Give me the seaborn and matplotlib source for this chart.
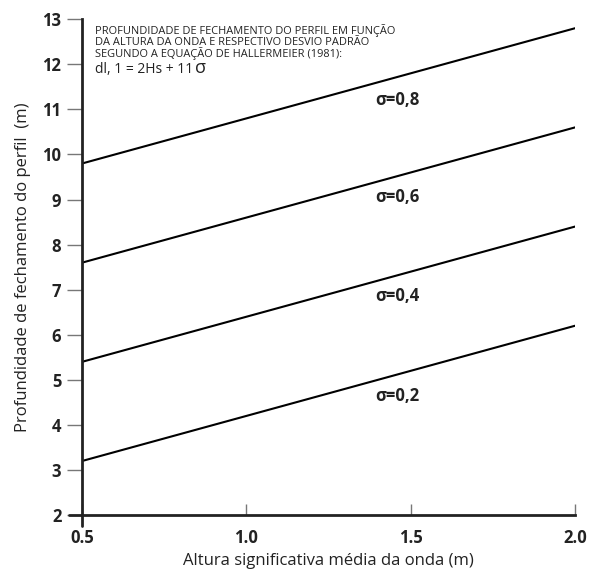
import pandas as pd
import seaborn as sns
import matplotlib.pyplot as plt

# Data (dl = 2Hs + 11 sigma)
hs = [0.5, 2.0]
sigmas = ['0,2', '0,4', '0,6', '0,8']
depth_02 = [3.2, 6.2]
depth_04 = [5.4, 8.4]
depth_06 = [7.6, 10.6]
depth_08 = [9.8, 12.8]
label_y = [4.65, 6.85, 9.05, 11.2]

df = pd.DataFrame({'Hs': hs, '0,2': depth_02, '0,4': depth_04, '0,6': depth_06, '0,8': depth_08})
df = df.melt(id_vars='Hs', var_name='sigma', value_name='dl')

sns.set_style('ticks')
plt.rcParams['font.family'] = ['Open Sans', 'DejaVu Sans']

fig = plt.figure(figsize=(5.91, 5.82), dpi=100)
ax = fig.add_axes([0.139, 0.115, 0.834, 0.852])

sns.lineplot(data=df, x='Hs', y='dl', hue='sigma', palette=['black'] * 4,
             linewidth=1.5, legend=False, ax=ax)

ax.set_xlim(0.5, 2.0)
ax.set_ylim(2, 13)
ax.set_xticks([0.5, 1.0, 1.5, 2.0])
ax.set_xticklabels(['0.5', '1.0', '1.5', '2.0'])
ax.set_yticks(range(2, 14))

for s in ['top', 'right']:
    ax.spines[s].set_visible(False)
for s in ['left', 'bottom']:
    ax.spines[s].set_linewidth(2)
    ax.spines[s].set_color('#222222')

ax.tick_params(axis='y', direction='out', length=11, width=1, color='#777777',
               labelsize=12, pad=4)
ax.tick_params(axis='x', direction='in', length=8, width=1, color='#777777',
               labelsize=12, pad=10)
for lbl in ax.get_xticklabels() + ax.get_yticklabels():
    lbl.set_fontweight('bold')
    lbl.set_color('#222222')

# crossing tick at origin
ax.plot([0.5, 0.5], [2, 1.75], color='#222222', lw=2, clip_on=False)
ax.plot([0.5, 0.46], [2, 2], color='#222222', lw=2, clip_on=False)

ax.set_xlabel('Altura significativa média da onda (m)', fontsize=12, color='#222222', labelpad=4)
ax.set_ylabel('Profundidade de fechamento do perfil  (m)', fontsize=12, color='#222222', labelpad=8)

for s, y in zip(sigmas, label_y):
    ax.text(1.46, y, 'σ=' + s, fontsize=12, fontweight='bold',
            ha='center', va='center', color='#222222')

ax.text(0.54, 12.9, 'PROFUNDIDADE DE FECHAMENTO DO PERFIL EM FUNÇÃO\n'
        'DA ALTURA DA ONDA E RESPECTIVO DESVIO PADRÃO\n'
        'SEGUNDO A EQUAÇÃO DE HALLERMEIER (1981):',
        fontsize=7.9, va='top', ha='left', color='#222222', linespacing=1.0)
ax.text(0.54, 12.05, 'dl, 1 = 2Hs + 11', fontsize=10, va='top', ha='left', color='#222222')
ax.text(0.843, 12.12, 'σ', fontsize=13, va='top', ha='left', color='#222222')

fig.savefig('out.png', dpi=100)
